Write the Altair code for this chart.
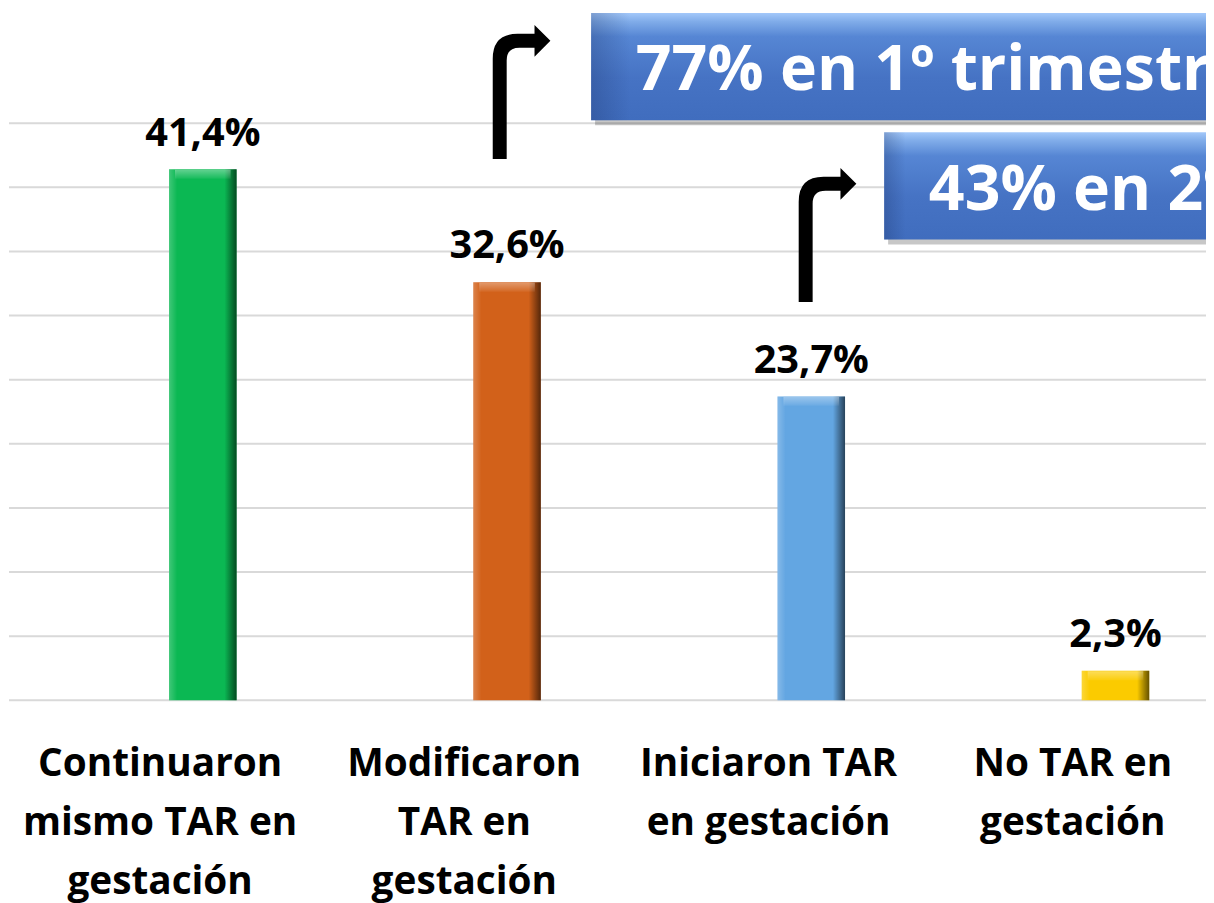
import altair as alt
import pandas as pd

# ---- data ----
categories = [
    "Continuaron\nmismo TAR en\ngestación",
    "Modificaron\nTAR en\ngestación",
    "Iniciaron TAR\nen gestación",
    "No TAR en\ngestación",
]
values = [41.4, 32.6, 23.7, 2.3]
value_labels = ["41,4%", "32,6%", "23,7%", "2,3%"]
bar_colors = ["#0bb853", "#d2611a", "#63a6e2", "#fbcb00"]
grid_values = [0, 5, 10, 15, 20, 25, 30, 35, 40, 45]
callout_texts = ["77% en 1º trimestre", "43% en 2º trimestre"]

df = pd.DataFrame({"cat": categories, "value": values, "label": value_labels})
grid_df = pd.DataFrame({"g": grid_values})

FONT = "Open Sans"

x_enc = alt.X(
    "cat:N",
    sort=categories,
    scale=alt.Scale(domain=categories, range=[43, 1268], paddingInner=0, paddingOuter=0),
    axis=alt.Axis(
        title=None, labelAngle=0, domain=False, ticks=False, grid=False,
        labelExpr="split(datum.value, '\\n')",
        labelFont=FONT, labelFontWeight="bold", labelFontSize=39,
        labelColor="black", labelLineHeight=59, labelPadding=45,
        labelLimit=0, labelOverlap=False, labelOffset=-43,
    ),
)
y_scale = alt.Scale(domain=[0, 53.75], nice=False, zero=True)
y_enc = alt.Y(
    "value:Q",
    scale=y_scale,
    axis=alt.Axis(title=None, labels=False, ticks=False, domain=False, grid=False),
)

gridlines = alt.Chart(grid_df).mark_rule(color="#d9d9d9", strokeWidth=2).encode(
    y=alt.Y("g:Q", scale=y_scale, axis=None),
    x=alt.value(1),
    x2=alt.value(1214),
)

base = alt.Chart(df)
xs = alt.X("cat:N", sort=categories)

bars = base.mark_bar(size=68).encode(
    x=x_enc,
    y=y_enc,
    color=alt.Color("cat:N", scale=alt.Scale(domain=categories, range=bar_colors), legend=None),
)

bevel = base.mark_bar(
    size=68,
    color=alt.Gradient(
        gradient="linear", x1=0, x2=1, y1=0, y2=0,
        stops=[
            alt.GradientStop(color="rgba(255,255,255,0.22)", offset=0),
            alt.GradientStop(color="rgba(255,255,255,0)", offset=0.12),
            alt.GradientStop(color="rgba(0,0,0,0)", offset=0.82),
            alt.GradientStop(color="rgba(0,0,0,0.6)", offset=1),
        ],
    ),
).encode(x=xs, y="value:Q")

top_bevel = base.mark_tick(
    thickness=9, size=56, yOffset=5,
    color=alt.Gradient(
        gradient="linear", x1=0, x2=0, y1=0, y2=1,
        stops=[
            alt.GradientStop(color="rgba(255,255,255,0.35)", offset=0),
            alt.GradientStop(color="rgba(255,255,255,0.05)", offset=1),
        ],
    ),
    opacity=1,
).encode(x=xs, y="value:Q")

labels = base.mark_text(
    font=FONT, fontWeight="bold", fontSize=40, color="black",
    baseline="alphabetic", dy=-24,
).encode(x=xs, y="value:Q", text="label:N")

box_grad = alt.Gradient(
    gradient="linear", x1=0, x2=0, y1=0, y2=1,
    stops=[
        alt.GradientStop(color="#a3c8fa", offset=0),
        alt.GradientStop(color="#80ace9", offset=0.08),
        alt.GradientStop(color="#5686d4", offset=0.22),
        alt.GradientStop(color="#4673c4", offset=0.6),
        alt.GradientStop(color="#406dbe", offset=1),
    ],
)
box_side = alt.Gradient(
    gradient="linear", x1=0, x2=1, y1=0, y2=0,
    stops=[
        alt.GradientStop(color="rgba(20,40,90,0.25)", offset=0),
        alt.GradientStop(color="rgba(20,40,90,0)", offset=0.06),
        alt.GradientStop(color="rgba(20,40,90,0)", offset=1),
    ],
)


def callout(text, x0, y0, x1, y1, tx, ty):
    d = alt.Chart(pd.DataFrame({"t": [text]}))
    shadow = d.mark_rect(color="rgba(0,0,0,0.22)").encode(
        x=alt.value(x0 + 4), x2=alt.value(x1 + 4), y=alt.value(y0 + 5), y2=alt.value(y1 + 5))
    box = d.mark_rect(color=box_grad).encode(
        x=alt.value(x0), x2=alt.value(x1), y=alt.value(y0), y2=alt.value(y1))
    side = d.mark_rect(color=box_side).encode(
        x=alt.value(x0), x2=alt.value(x1), y=alt.value(y0), y2=alt.value(y1))
    txt = d.mark_text(
        font=FONT, fontWeight="bold", fontSize=63, color="white",
        align="left", baseline="alphabetic",
    ).encode(x=alt.value(tx), y=alt.value(ty), text="t:N")
    return [shadow, box, side, txt]


ARROW = (
    "M -0.430 1.0 L -0.430 -0.496 Q -0.430 -0.867 -0.059 -0.867 "
    "L 0.193 -0.867 L 0.193 -1.0 L 0.430 -0.763 L 0.193 -0.526 "
    "L 0.193 -0.659 L -0.030 -0.659 Q -0.222 -0.659 -0.222 -0.467 "
    "L -0.222 1.0 Z"
)


def arrow(cx, cy):
    return alt.Chart(pd.DataFrame({"k": [0]})).mark_point(
        shape=ARROW, filled=True, color="black", opacity=1, size=18225, strokeWidth=0,
    ).encode(x=alt.value(cx), y=alt.value(cy))


layers = [gridlines, bars, bevel, top_bevel, labels]
layers += callout(callout_texts[0], 587, 2, 1240, 110, 632, 80)
layers += callout(callout_texts[1], 882, 122, 1240, 230, 927, 200)
layers += [arrow(517, 81.5), arrow(825, 225.5)]

chart = alt.layer(*layers).properties(
    width=1206,
    height=694,
    autosize=alt.AutoSizeParams(type="none"),
    padding={"left": 0, "top": 0, "right": 0, "bottom": 201},
    background="white",
).configure_view(stroke=None, strokeWidth=0)

chart.save("out.html", embed_options={"renderer": "svg", "actions": False})
